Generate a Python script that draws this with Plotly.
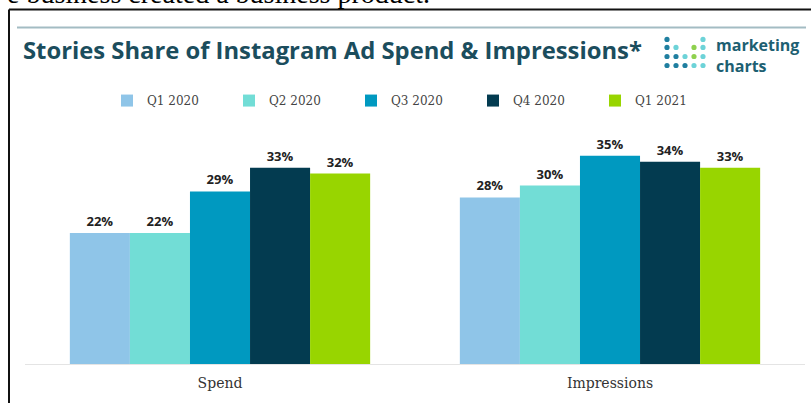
import plotly.graph_objects as go

# ---- data ----
categories = ["Spend", "Impressions"]
series_names = ["Q1 2020", "Q2 2020", "Q3 2020", "Q4 2020", "Q1 2021"]
spend_values = [22, 22, 29, 33, 32]
impression_values = [28, 30, 35, 34, 33]
series_colors = ["#8fc5e8", "#72ddd6", "#0099c0", "#033b50", "#98d500"]

# ---- layout geometry (pixels) ----
WIDTH, HEIGHT = 811, 403
L, R, T, B = 25, 6, 126.4, 39
PW = WIDTH - L - R
PH = HEIGHT - T - B


def px(x):
    return (x - L) / PW


def py(y):
    return (HEIGHT - B - y) / PH


fig = go.Figure()
for i, name in enumerate(series_names):
    vals = [spend_values[i], impression_values[i]]
    fig.add_trace(go.Bar(
        x=categories, y=vals, name=name,
        marker=dict(color=series_colors[i], line=dict(width=0)),
        texttemplate="%{y}%", textposition="outside",
        textfont=dict(family="Open Sans", size=13, color="#222222", weight="bold"),
        cliponaxis=False,
    ))

shapes = [
    # document frame
    dict(type="line", xref="paper", yref="paper", x0=px(9), x1=px(815), y0=py(10), y1=py(10),
         line=dict(color="#111111", width=2)),
    dict(type="line", xref="paper", yref="paper", x0=px(9), x1=px(9), y0=py(10), y1=py(410),
         line=dict(color="#111111", width=2)),
    # header rule
    dict(type="line", xref="paper", yref="paper", x0=px(17), x1=px(806), y0=py(28), y1=py(28),
         line=dict(color="#a3bcc3", width=2)),
]

# logo dots
cols = [667, 676, 685, 694, 703]
rows = [40, 48, 57, 66]
DT, CY, GR = "#1f7fa0", "#6dd3d8", "#8fd14f"
dot_pattern = [
    [DT, None, None, None, CY],
    [DT, CY, None, GR, CY],
    [DT, DT, CY, GR, CY],
    [DT, DT, DT, CY, CY],
]
r = 2.6
for ri, row in enumerate(dot_pattern):
    for ci, c in enumerate(row):
        if c is None:
            continue
        cx, cy = cols[ci], rows[ri]
        shapes.append(dict(type="circle", xref="paper", yref="paper",
                           x0=px(cx - r), x1=px(cx + r), y0=py(cy + r), y1=py(cy - r),
                           fillcolor=c, line=dict(width=0)))

annotations = [
    dict(text="e business created a business product.", xref="paper", yref="paper",
         x=px(432), y=py(-6), xanchor="right", yanchor="middle", showarrow=False,
         font=dict(family="Liberation Serif", size=28, color="#000000")),
    dict(text="<b>Stories Share of Instagram Ad Spend &amp; Impressions*</b>", xref="paper", yref="paper",
         x=px(21), y=py(50.5), xanchor="left", yanchor="middle", showarrow=False,
         font=dict(family="Open Sans", size=23.8, color="#1b4d5d")),
    dict(text="<b>marketing<br>charts</b>", xref="paper", yref="paper",
         x=px(714), y=py(56.5), xanchor="left", yanchor="middle", align="left", showarrow=False,
         font=dict(family="Open Sans", size=16, color="#1d5f72")),
]

fig.update_layout(
    width=WIDTH, height=HEIGHT,
    margin=dict(l=L, r=R, t=T, b=B, pad=0),
    paper_bgcolor="white", plot_bgcolor="white",
    barmode="group", bargap=0.23, bargroupgap=0,
    showlegend=True,
    legend=dict(orientation="h", x=px(107), y=py(101), xanchor="left", yanchor="middle",
                entrywidth=77, entrywidthmode="pixels", itemwidth=30,
                font=dict(family="DejaVu Serif", size=12, color="#444444"),
                bgcolor="rgba(0,0,0,0)", traceorder="normal"),
    xaxis=dict(showline=True, linecolor="#e4e4e4", linewidth=1, showgrid=False,
               ticks="", ticklabelstandoff=6,
               tickfont=dict(family="DejaVu Serif", size=14, color="#333333")),
    yaxis=dict(range=[0, 40], visible=False, showgrid=False, zeroline=False),
    shapes=shapes,
    annotations=annotations,
    font=dict(family="Open Sans"),
)

fig.write_html("out.html")
